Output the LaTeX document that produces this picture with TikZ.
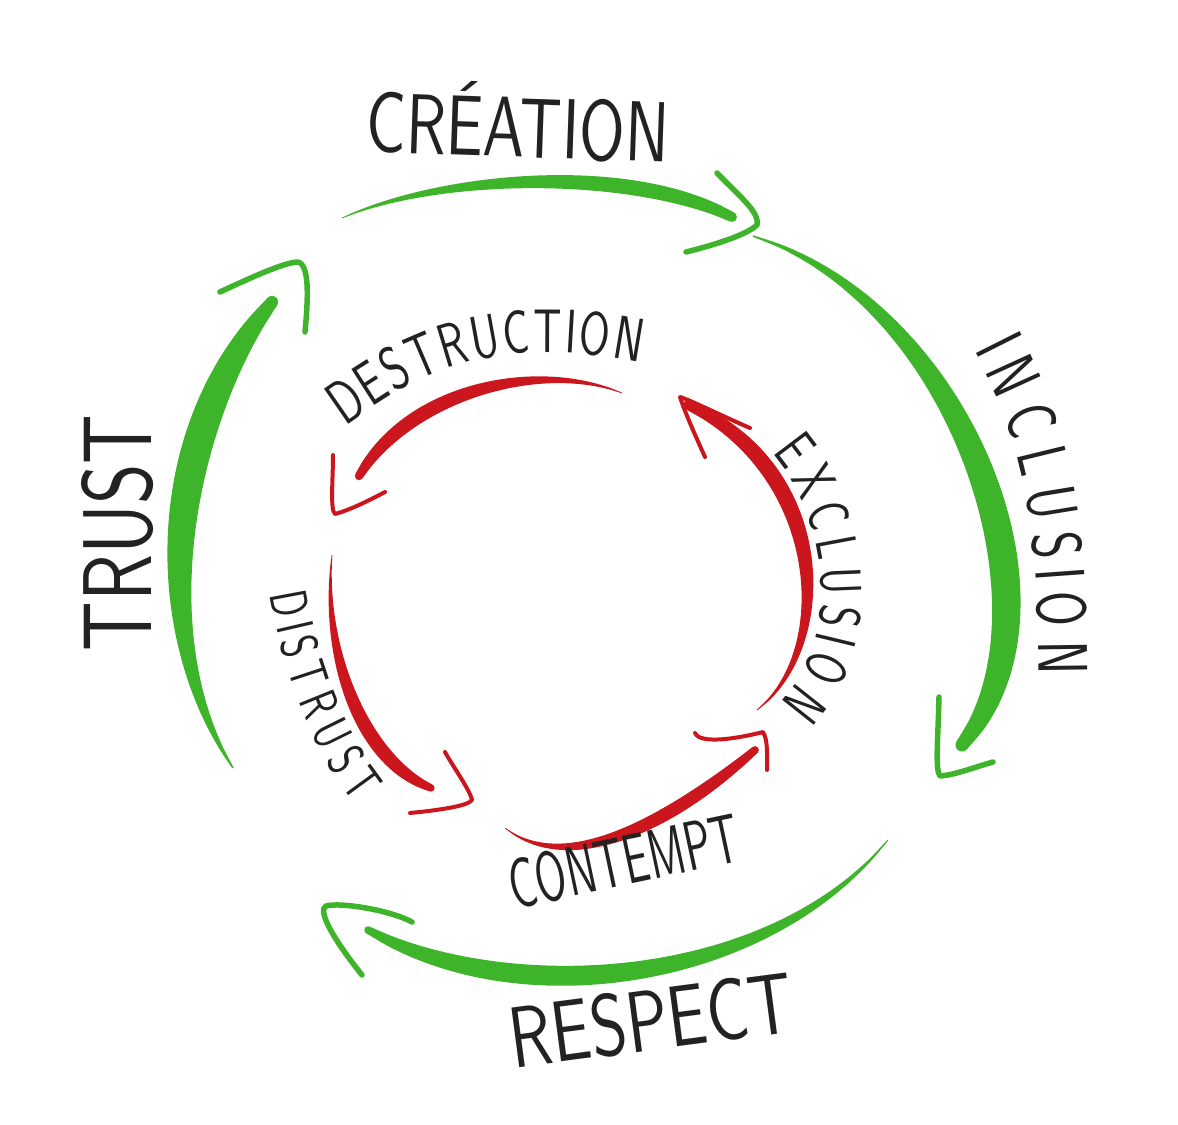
\documentclass[tikz,border=0pt]{standalone}
\usepackage{graphicx}
\usetikzlibrary{calc,decorations.text}
\definecolor{grn}{RGB}{62,180,42}
\definecolor{rd}{RGB}{204,22,30}
\definecolor{ink}{RGB}{34,34,34}
% tapered brush stroke along a cubic curve
% #1 name, #2 start, #3 c1, #4 c2, #5 end, #6 max half width (px), #7 profile angle
\newcommand\tbody[7]{%
  \path #2 .. controls #3 and #4 .. #5
    \foreach \k [evaluate=\k as \tq using \k/20] in {0,...,20} { coordinate[pos=\tq] (#1p\k) };
  \foreach \k in {0,...,20} {%
    \pgfmathtruncatemacro\prv{max(\k-1,0)}%
    \pgfmathtruncatemacro\nxt{min(\k+1,20)}%
    \pgfmathsetmacro\hk{#6*(0.05+0.95*sin(#7*(\k/20)*(0.6+0.4*\k/20)))}%
    \coordinate (#1t\k) at ($(#1p\k)+(#1p\nxt)-(#1p\prv)$);
    \coordinate (#1l\k) at ($(#1p\k)!\hk*0.02cm!90:(#1t\k)$);
    \coordinate (#1r\k) at ($(#1p\k)!\hk*0.02cm!-90:(#1t\k)$);
  }%
  \gdef\tbL{}\gdef\tbR{}%
  \foreach \k in {0,...,20} {\xdef\tbL{\tbL(#1l\k)}\xdef\tbR{(#1r\k)\tbR}}%
  \pgfmathsetmacro\hend{#6*(0.05+0.95*sin(#7))}%
  \edef\tbcmd{\noexpand\fill plot[smooth] coordinates {\tbL} -- plot[smooth] coordinates {\tbR} -- cycle;
     \noexpand\fill (#1p20) circle[radius=\hend*0.02cm];}%
  \tbcmd
}
\begin{document}
\begin{tikzpicture}[x=0.02cm,y=-0.02cm,
  lbl/.style={inner sep=0pt, text=ink, font=\sffamily},
  ghead/.style={draw=grn, line width=0.11cm, line cap=round, line join=round},
  rhead/.style={draw=rd, line width=0.08cm, line cap=round, line join=round},
  curvedlbl/.style 2 args={decorate, decoration={text effects along path, text={#1}, text align=center,
      text effects/.cd, fit text to path,
      characters={text along path, transform shape, font=\sffamily\fontsize{#2}{#2}\selectfont, text=ink, xscale=0.72}}}]
\fill[white] (0,0) rectangle (1178,1125);
\useasboundingbox (0,0) rectangle (1178,1125);

% ---------- green outer cycle ----------
\begin{scope}[fill=grn]
\tbody{gT}{(342,218)}{(440,175)}{(630,165)}{(732,217)}{7.5}{140}
\tbody{gR}{(753,236)}{(960,300)}{(1075,610)}{(962,745)}{14.5}{155}
\tbody{gB}{(888,840)}{(770,985)}{(515,1012)}{(368,930)}{10}{160}
\tbody{gL}{(233,768)}{(150,640)}{(165,430)}{(272,302)}{15}{158}
\end{scope}
\draw[ghead] (717,173) .. controls (738,195) and (760,212) .. (757,225) .. controls (745,236) and (710,246) .. (686,252);
\draw[ghead] (939,697) .. controls (938,740) and (935,770) .. (940,776) .. controls (955,775) and (975,767) .. (993,762);
\draw[ghead] (412,922) .. controls (390,910) and (340,902) .. (326,906) .. controls (318,910) and (330,935) .. (362,975);
\draw[ghead] (220,292) .. controls (250,278) and (285,262) .. (298,262) .. controls (310,265) and (308,300) .. (305,332);

% ---------- red inner cycle ----------
\begin{scope}[fill=rd]
\tbody{rT}{(622,393)}{(540,360)}{(410,390)}{(359,476)}{7}{145}
\tbody{rL}{(332,555)}{(322,650)}{(360,760)}{(431,788)}{7}{150}
\tbody{rB}{(505,828)}{(565,875)}{(665,828)}{(755,750)}{6.5}{145}
\tbody{rR}{(757,710)}{(835,650)}{(830,470)}{(688,405)}{8}{145}
\end{scope}
\draw[rhead] (333,455) .. controls (333,480) and (330,510) .. (335,514) .. controls (350,510) and (370,500) .. (385,492);
\draw[rhead] (445,752) .. controls (452,765) and (470,790) .. (472,800) .. controls (468,806) and (440,810) .. (410,813);
\draw[rhead] (695,733) .. controls (700,745) and (740,738) .. (763,732) .. controls (768,740) and (767,755) .. (767,770);
\draw[rhead] (750,428) .. controls (720,415) and (690,400) .. (680,397) .. controls (684,410) and (695,435) .. (705,457);

% ---------- labels ----------
\node[lbl, rotate=-2]  (creation)    at (518,121) {\resizebox{6.06cm}{1.48cm}{CRÉATION}};
\node[lbl, rotate=7.5] (respect)     at (651,1020) {\resizebox{5.7cm}{1.24cm}{RESPECT}};
\node[lbl, rotate=90]  (trust)       at (118,533) {\resizebox{4.74cm}{1.4cm}{TRUST}};
\node[lbl, rotate=12]  (contempt)    at (624,861) {\resizebox{4.68cm}{1.0cm}{CONTEMPT}};
\path[curvedlbl={INCLUSION}{40}] (974,350) .. controls (1012,425) and (1038,485) .. (1039,675);
\path[curvedlbl={DESTRUCTION}{35}] (345,426) .. controls (405,385) and (472,330) .. (640,362);
\path[curvedlbl={EXCLUSION}{33}] (772,453) .. controls (830,520) and (842,640) .. (780,703);
\path[curvedlbl={DISTRUST}{30}] (270,594) .. controls (283,671) and (310,747) .. (355,804);
\end{tikzpicture}
\end{document}
